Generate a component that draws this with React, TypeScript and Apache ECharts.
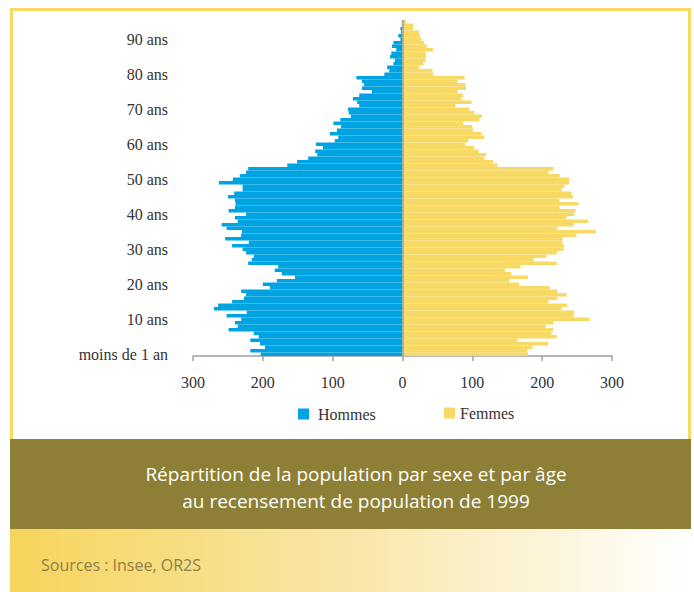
import React, { useEffect, useRef } from "react";
import * as echarts from "echarts";

// Ages 0..95 (one bar per year of age)
const ageLabels: string[] = Array.from({ length: 96 }, (_, i) =>
  i === 0 ? "moins de 1 an" : `${i} ans`
);

// Hommes, ages 0..95
const hommes: number[] = [
  203, 218, 197, 204, 218, 206, 213, 249, 236, 240,
  231, 252, 223, 270, 264, 244, 227, 224, 231, 190,
  200, 180, 154, 173, 183, 178, 221, 216, 213, 224,
  229, 244, 220, 254, 231, 230, 252, 259, 236, 240,
  224, 249, 240, 239, 240, 250, 241, 229, 229, 263,
  243, 233, 224, 221, 165, 151, 135, 122, 125, 114,
  124, 97, 92, 104, 94, 88, 99, 89, 74, 77,
  78, 62, 65, 71, 62, 44, 58, 55, 58, 66,
  26, 19, 22, 13, 11, 18, 16, 9, 15, 13,
  3, 6, 2, 3, 1, 1,
];

// Femmes, ages 0..95
const femmes: number[] = [
  180, 179, 186, 209, 165, 221, 213, 216, 205, 216,
  268, 245, 246, 228, 236, 209, 222, 235, 222, 211,
  167, 153, 180, 156, 147, 169, 221, 188, 206, 221,
  231, 231, 229, 229, 249, 277, 221, 245, 266, 235,
  246, 248, 225, 252, 225, 244, 242, 228, 232, 239,
  239, 225, 209, 216, 136, 130, 117, 120, 109, 103,
  90, 94, 117, 113, 101, 100, 87, 110, 114, 103,
  96, 76, 99, 84, 87, 79, 91, 90, 79, 89,
  44, 43, 24, 30, 33, 34, 33, 44, 35, 31,
  27, 25, 24, 15, 15, 5,
];

const seriesNames = ["Hommes", "Femmes"];
const xTicks = { min: -300, max: 300, interval: 100 };

const BLUE = "#00A3E2";
const YELLOW = "#F7D964";
const OLIVE = "#8D7F35";
const SERIF = "Liberation Serif";
const SANS = "Open Sans";

export default function App() {
  const ref = useRef<HTMLDivElement>(null);

  useEffect(() => {
    if (!ref.current) return;
    const chart = echarts.init(ref.current, null, { renderer: "svg" });
    chart.setOption({
      animation: false,
      backgroundColor: "#ffffff",
      graphic: [
        {
          type: "rect",
          z: -10,
          shape: { x: 11.5, y: 9.5, width: 678, height: 432 },
          style: { fill: "#ffffff", stroke: YELLOW, lineWidth: 3 },
        },
        {
          type: "rect",
          z: -5,
          shape: { x: 10, y: 439, width: 681, height: 90 },
          style: { fill: OLIVE },
        },
        {
          type: "rect",
          z: -5,
          shape: { x: 10, y: 529, width: 684, height: 63 },
          style: {
            fill: new echarts.graphic.LinearGradient(0, 0, 1, 0, [
              { offset: 0, color: "#F6D55C" },
              { offset: 0.45, color: "#F8E4A0" },
              { offset: 1, color: "#FFFFFF" },
            ]),
          },
        },
        {
          type: "text",
          x: 356,
          y: 474,
          style: {
            text: "Répartition de la population par sexe et par âge",
            fill: "#ffffff",
            font: `19px "${SANS}"`,
            textAlign: "center",
            textVerticalAlign: "middle",
          },
        },
        {
          type: "text",
          x: 356,
          y: 501,
          style: {
            text: "au recensement de population de 1999",
            fill: "#ffffff",
            font: `19px "${SANS}"`,
            textAlign: "center",
            textVerticalAlign: "middle",
          },
        },
        {
          type: "text",
          x: 41,
          y: 565,
          style: {
            text: "Sources : Insee, OR2S",
            fill: "#8E8048",
            font: `16px "${SANS}"`,
            textAlign: "left",
            textVerticalAlign: "middle",
          },
        },
      ],
      legend: [
        {
          data: [seriesNames[0]],
          left: 298,
          top: 406,
          padding: 0,
          icon: "rect",
          itemWidth: 11,
          itemHeight: 11,
          textStyle: { fontFamily: SERIF, fontSize: 16, color: "#333", padding: [0, 0, 0, 4] },
        },
        {
          data: [seriesNames[1]],
          left: 444,
          top: 405,
          padding: 0,
          icon: "rect",
          itemWidth: 11,
          itemHeight: 11,
          textStyle: { fontFamily: SERIF, fontSize: 16, color: "#333" },
        },
      ],
      grid: { left: 193, top: 20, width: 419, height: 336, containLabel: false },
      xAxis: {
        type: "value",
        min: xTicks.min,
        max: xTicks.max,
        interval: xTicks.interval,
        axisLine: { show: true, lineStyle: { color: "#A0A0A0", width: 1.5 } },
        axisTick: { show: true, length: 5, lineStyle: { color: "#A0A0A0", width: 1.5 } },
        splitLine: { show: false },
        axisLabel: {
          margin: 18,
          fontFamily: SERIF,
          fontSize: 16,
          color: "#333",
          formatter: (v: number) => String(Math.abs(v)),
        },
      },
      yAxis: {
        type: "category",
        data: ageLabels,
        axisLine: { show: false, onZero: false },
        axisTick: { show: false },
        axisLabel: {
          interval: 9,
          margin: 25,
          fontFamily: SERIF,
          fontSize: 16,
          color: "#333",
          padding: [3, 0, 0, 0],
        },
      },
      series: [
        {
          name: seriesNames[0],
          type: "bar",
          stack: "pop",
          barCategoryGap: "0%",
          itemStyle: { color: BLUE },
          data: hommes.map((v) => -v),
        },
        {
          name: seriesNames[1],
          type: "bar",
          stack: "pop",
          barCategoryGap: "0%",
          itemStyle: { color: YELLOW },
          data: femmes,
          markLine: {
            silent: true,
            symbol: "none",
            label: { show: false },
            lineStyle: { color: "#A0A0A0", width: 1.5, type: "solid" },
            data: [{ xAxis: 0 }],
          },
        },
      ],
    });
    return () => chart.dispose();
  }, []);

  return (
    <div
      ref={ref}
      style={{ position: "fixed", left: 0, top: 0, width: 694, height: 592 }}
    />
  );
}
